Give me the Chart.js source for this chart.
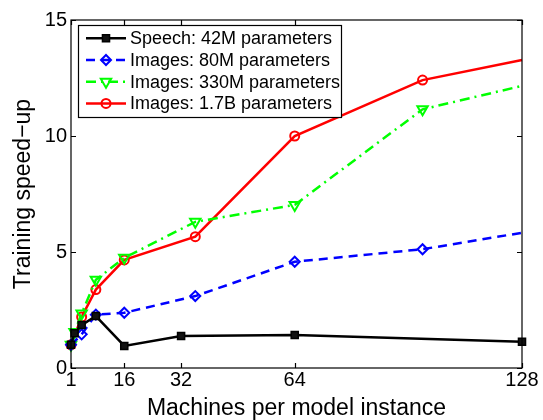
<!DOCTYPE html>
<html>
<head>
<meta charset="utf-8">
<script src="https://cdn.jsdelivr.net/npm/chart.js@4.4.1/dist/chart.umd.min.js"></script>
<style>
  html, body { margin: 0; padding: 0; background: #fff; }
  #wrap { width: 543px; height: 420px; }
</style>
</head>
<body>
<div id="wrap"><canvas id="c" width="543" height="420"></canvas></div>
<script>
// ---- data ----
const seriesLabels = ["Speech: 42M parameters", "Images: 80M parameters", "Images: 330M parameters", "Images: 1.7B parameters"];

const speechX = [1, 2, 4, 8, 16, 32, 64, 128];
const speechY = [1.0, 1.5, 1.85, 2.24, 0.95, 1.38, 1.42, 1.13];

const img80X = [1, 4, 8, 16, 36, 64, 100, 128];
const img80Y = [1.0, 1.45, 2.3, 2.38, 3.1, 4.58, 5.12, 5.83];

const img330X = [1, 2, 4, 8, 16, 36, 64, 100, 128];
const img330Y = [1.0, 1.55, 2.35, 3.8, 4.75, 6.3, 7.03, 11.15, 12.16];

const img17X = [1, 4, 8, 16, 36, 64, 100, 128];
const img17Y = [1.0, 2.2, 3.38, 4.66, 5.66, 10.0, 12.41, 13.28];

const xTicks = [1, 16, 32, 64, 128];
const yTicks = [0, 5, 10, 15];
const xTitle = "Machines per model instance";
const yTitle = "Training speed\u2212up";

const FONT = "'Liberation Sans', Arial, Helvetica, sans-serif";

function pts(xs, ys) { return xs.map((x, i) => ({ x: x, y: ys[i] })); }
// image series run on past the right edge: no marker at the clipped end
function endHidden(r) {
  return ctx => (ctx.raw && ctx.raw.x === 128) ? 0 : r;
}

const datasets = [
  {
    label: seriesLabels[0], data: pts(speechX, speechY),
    borderColor: "#000000", borderWidth: 2.5,
    pointStyle: "rect", pointRadius: 5, pointBorderColor: "#000", pointBackgroundColor: "#111", pointBorderWidth: 1.5,
    mk: { style: "rect", r: 5, fill: "#111" }
  },
  {
    label: seriesLabels[1], data: pts(img80X, img80Y),
    borderColor: "#0000ff", borderWidth: 2.5, borderDash: [9, 6],
    pointStyle: "rectRot", pointRadius: endHidden(5), pointBorderColor: "#0000ff", pointBackgroundColor: "rgba(0,0,0,0)", pointBorderWidth: 2,
    mk: { style: "rectRot", r: 5, fill: "rgba(0,0,0,0)" }
  },
  {
    label: seriesLabels[2], data: pts(img330X, img330Y),
    borderColor: "#00ff00", borderWidth: 2.5, borderDash: [10, 5, 2, 5],
    pointStyle: "triangle", pointRotation: 180, pointRadius: endHidden(6), pointBorderColor: "#00ff00", pointBackgroundColor: "rgba(0,0,0,0)", pointBorderWidth: 2,
    mk: { style: "triangle", r: 6, fill: "rgba(0,0,0,0)", rot: 180 }
  },
  {
    label: seriesLabels[3], data: pts(img17X, img17Y),
    borderColor: "#ff0000", borderWidth: 2.5,
    pointStyle: "circle", pointRadius: endHidden(4.5), pointBorderColor: "#ff0000", pointBackgroundColor: "rgba(0,0,0,0)", pointBorderWidth: 2,
    mk: { style: "circle", r: 4.5, fill: "rgba(0,0,0,0)" }
  }
];
datasets.forEach(d => { d.fill = false; d.tension = 0; d.clip = false; d.pointHoverRadius = d.pointRadius; });

const L = 71, R = 522, T = 20, B = 368;

const framePlugin = {
  id: "frame",
  afterDatasetsDraw(chart) {
    const ctx = chart.ctx, a = chart.chartArea;
    const xs = chart.scales.x, ys = chart.scales.y;
    ctx.save();
    ctx.strokeStyle = "#000";
    ctx.lineWidth = 1.2;
    ctx.strokeRect(a.left, a.top, a.right - a.left, a.bottom - a.top);
    const tl = 5;
    ctx.beginPath();
    xTicks.forEach(v => {
      const px = Math.round(xs.getPixelForValue(v)) + 0.5;
      ctx.moveTo(px, a.bottom); ctx.lineTo(px, a.bottom - tl);
      ctx.moveTo(px, a.top); ctx.lineTo(px, a.top + tl);
    });
    yTicks.forEach(v => {
      const py = Math.round(ys.getPixelForValue(v)) + 0.5;
      ctx.moveTo(a.left, py); ctx.lineTo(a.left + tl, py);
      ctx.moveTo(a.right, py); ctx.lineTo(a.right - tl, py);
    });
    ctx.stroke();
    ctx.restore();
  },
  afterDraw(chart) {
    const ctx = chart.ctx;
    const bx = 78, by = 25, bw = 263, bh = 92;
    ctx.save();
    ctx.fillStyle = "#fff";
    ctx.fillRect(bx, by, bw, bh);
    ctx.strokeStyle = "#000";
    ctx.lineWidth = 1.2;
    ctx.strokeRect(bx + 0.5, by + 0.5, bw, bh);
    const rowH = 21.7, y0 = 38.3;
    ctx.font = "18px " + FONT;
    ctx.textBaseline = "middle";
    chart.data.datasets.forEach((d, i) => {
      const y = y0 + i * rowH;
      ctx.save();
      ctx.strokeStyle = d.borderColor;
      ctx.lineWidth = d.borderWidth;
      ctx.setLineDash(d.borderDash || []);
      ctx.beginPath();
      ctx.moveTo(86, y); ctx.lineTo(126, y);
      ctx.stroke();
      ctx.setLineDash([]);
      ctx.strokeStyle = d.pointBorderColor;
      ctx.fillStyle = d.mk.fill;
      ctx.lineWidth = d.pointBorderWidth;
      Chart.helpers.drawPoint(ctx, { pointStyle: d.mk.style, radius: d.mk.r, rotation: d.mk.rot || 0, borderWidth: d.pointBorderWidth }, 106, y);
      ctx.restore();
      ctx.fillStyle = "#000";
      ctx.fillText(d.label, 130, y + 1);
    });
    ctx.restore();
  }
};

new Chart(document.getElementById("c"), {
  type: "line",
  data: { datasets: datasets },
  options: {
    responsive: false,
    animation: false,
    devicePixelRatio: 1,
    layout: { padding: { left: 0, right: 543 - R, top: T, bottom: 0 } },
    plugins: { legend: { display: false }, tooltip: { enabled: false } },
    scales: {
      x: {
        type: "linear", min: 1, max: 128,
        afterBuildTicks: s => { s.ticks = xTicks.map(v => ({ value: v })); },
        afterFit: s => { s.height = 420 - B; },
        grid: { display: false, drawTicks: false },
        border: { display: false },
        ticks: { color: "#000", font: { family: FONT, size: 20 }, padding: 0, maxRotation: 0, autoSkip: false },
        title: { display: true, text: xTitle, color: "#000", font: { family: FONT, size: 23, lineHeight: 1 }, padding: { top: 0, bottom: 0 } }
      },
      y: {
        type: "linear", min: 0, max: 15,
        afterBuildTicks: s => { s.ticks = yTicks.map(v => ({ value: v })); },
        afterFit: s => { s.width = L; },
        grid: { display: false, drawTicks: false },
        border: { display: false },
        ticks: { color: "#000", font: { family: FONT, size: 20 }, padding: 4 },
        title: { display: true, text: yTitle, color: "#000", font: { family: FONT, size: 23 }, padding: { top: 10, bottom: 0 } }
      }
    }
  },
  plugins: [framePlugin]
});
</script>
</body>
</html>
